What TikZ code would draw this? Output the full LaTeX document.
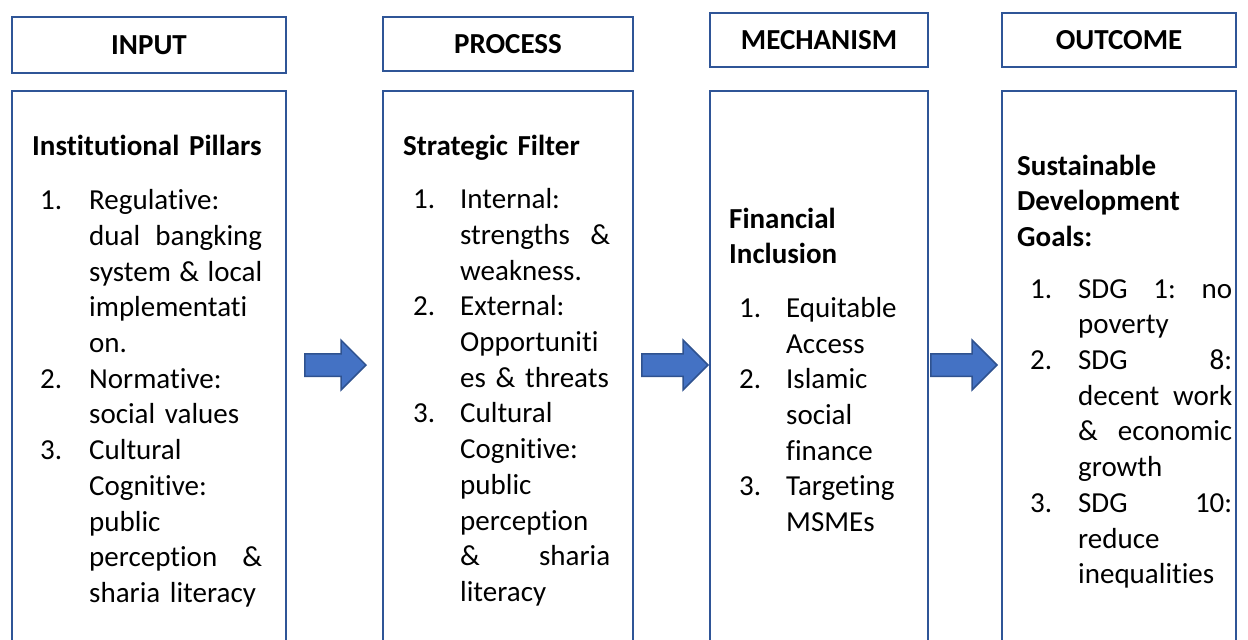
\documentclass[tikz,border=0pt]{standalone}
\usepackage{fontspec}
\setmainfont{Carlito}[Ligatures=NoCommon,RawFeature={-liga;-calt;-dlig}]
\usepackage{tikz}
\usetikzlibrary{positioning,shapes.arrows}

\definecolor{boxblue}{HTML}{2F5597}
\definecolor{arrowfill}{HTML}{4472C4}
\definecolor{arrowedge}{HTML}{2F528F}

\newcommand{\diafont}{\fontsize{29}{35.7}\selectfont}
\newlength\indw
\newlength\numw
\newlength\txtw
% spaces of a justified line share the spare room
\newcommand{\spread}[1]{\hbox to\txtw{\spaceskip=0.23em plus 1fil\xspaceskip=\spaceskip\relax #1}}
% numbered line, justified line, plain continuation
\newcommand{\nline}[2]{\hspace*{\indw}\makebox[\numw][l]{#1}#2}
\newcommand{\njline}[2]{\hspace*{\indw}\makebox[\numw][l]{#1}\spread{#2}}
\newcommand{\pline}[1]{\hspace*{\indw}\hspace*{\numw}#1}
\newcommand{\jline}[1]{\hspace*{\indw}\hspace*{\numw}\spread{#1}}

\begin{document}
\begin{tikzpicture}[x=1pt,y=-1pt,
  head/.style={draw=boxblue, line width=2.2pt, rectangle, minimum height=54pt, font=\diafont\bfseries},
  body/.style={draw=boxblue, line width=2.2pt, rectangle, anchor=north, minimum height=580pt},
  txt/.style={anchor=base west, inner sep=0pt, align=left, text width=240pt, font=\diafont},
  blockarrow/.style={single arrow, anchor=tip, draw=arrowedge, fill=arrowfill, line width=1.5pt,
    text height=0pt, text depth=0pt, inner xsep=0pt, inner ysep=10.5pt, single arrow head extend=13.5pt},
  colA/.style={execute at begin node={\global\indw=8pt\global\numw=49pt\global\txtw=173pt}},
  colB/.style={execute at begin node={\global\indw=10pt\global\numw=47pt\global\txtw=150pt}},
  colC/.style={execute at begin node={\global\indw=10pt\global\numw=47pt\global\txtw=112pt}},
  colD/.style={execute at begin node={\global\indw=13pt\global\numw=48pt\global\txtw=154pt}}]
\useasboundingbox (0,0) rectangle (1248,640);
\clip (0,0) rectangle (1248,640);

\node[head, minimum width=274pt, minimum height=56pt] (inHead) at (149,45) {INPUT};
\node[head, minimum width=250pt] (procHead) at (508,44) {PROCESS};
\node[head, minimum width=218pt] (mechHead) at (819,40) {MECHANISM};
\node[head, minimum width=234pt] (outHead) at (1119,40) {OUTCOME};

\node[body, minimum width=274pt] (inBody) at (149,90) {};
\node[body, minimum width=250pt] (procBody) at (508,90) {};
\node[body, minimum width=218pt] (mechBody) at (819,90) {};
\node[body, minimum width=234pt] (outBody) at (1119,90) {};

\node[txt, colA] (inTxt) at (32,155) {\textbf{Institutional Pillars}\\[19pt]
\nline{1.}{Regulative:}\\
\jline{dual bangking}\\
\jline{system \& local}\\
\pline{implementati}\\
\pline{on.}\\
\nline{2.}{Normative:}\\
\pline{social values}\\
\nline{3.}{Cultural}\\
\pline{Cognitive:}\\
\pline{public}\\
\jline{perception \&}\\
\pline{sharia literacy}};

\node[txt, colB] (procTxt) at (403,155) {\textbf{Strategic Filter}\\[18pt]
\nline{1.}{Internal:}\\
\jline{strengths \&}\\
\pline{weakness.}\\
\nline{2.}{External:}\\
\pline{Opportuniti}\\
\pline{es \& threats}\\
\nline{3.}{Cultural}\\
\pline{Cognitive:}\\
\pline{public}\\
\pline{perception}\\
\jline{\& sharia}\\
\pline{literacy}};

\node[txt, colC] (mechTxt) at (729,228) {\textbf{Financial}\\
\textbf{Inclusion}\\[18pt]
\nline{1.}{Equitable}\\
\pline{Access}\\
\nline{2.}{Islamic}\\
\pline{social}\\
\pline{finance}\\
\nline{3.}{Targeting}\\
\pline{MSMEs}};

\node[txt, colD] (outTxt) at (1017,175) {\textbf{Sustainable}\\
\textbf{Development}\\
\textbf{Goals:}\\[16pt]
\njline{1.}{SDG 1: no}\\
\pline{poverty}\\
\njline{2.}{SDG 8:}\\
\jline{decent work}\\
\jline{\& economic}\\
\pline{growth}\\
\njline{3.}{SDG 10:}\\
\pline{reduce}\\
\pline{inequalities}};

\node[blockarrow, minimum height=61pt] (arrA) at (367,365) {};
\node[blockarrow, minimum height=66pt] (arrB) at (709,365) {};
\node[blockarrow, minimum height=66pt] (arrC) at (998,365) {};
\end{tikzpicture}
\end{document}
